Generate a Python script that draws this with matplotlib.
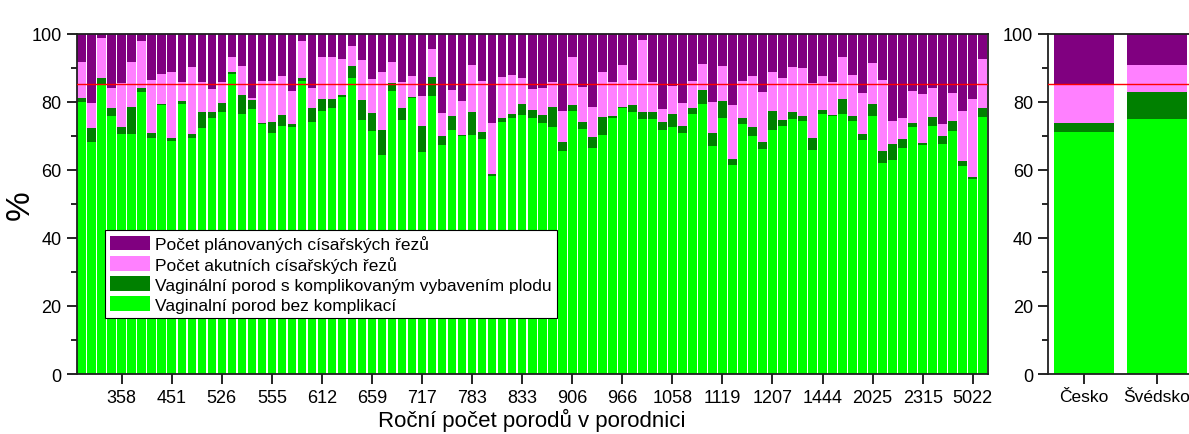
import matplotlib.pyplot as plt
import numpy as np
from matplotlib.ticker import MultipleLocator

plt.rcParams['font.family'] = ['Liberation Sans', 'DejaVu Sans']

# procenta pro jednotlive porodnice (serazeno podle rocniho poctu porodu)
bez_komplikaci = [79.8, 68.2, 84.9, 75.7, 70.5, 70.5, 82.9, 69.3, 79.0, 68.4,
                  79.2, 69.4, 72.2, 75.2, 76.9, 88.2, 76.3, 78.0, 73.5, 70.7,
                  72.9, 72.6, 86.2, 73.9, 77.3, 78.3, 81.3, 86.9, 74.7, 71.3,
                  64.3, 83.2, 74.7, 81.0, 65.3, 81.6, 67.3, 71.7, 69.8, 70.3,
                  69.0, 58.2, 73.9, 75.2, 76.2, 75.1, 73.7, 72.5, 65.6, 77.4,
                  72.0, 66.4, 70.3, 75.2, 78.3, 76.9, 74.9, 74.9, 71.8, 72.7,
                  70.7, 76.4, 79.3, 67.1, 75.1, 61.4, 73.6, 70.0, 66.1, 71.8,
                  72.9, 74.9, 74.4, 65.9, 76.5, 75.7, 76.5, 74.4, 68.8, 75.7,
                  61.9, 62.8, 66.3, 72.6, 67.3, 72.9, 67.5, 71.5, 61.2, 57.3,
                  75.4]
s_vybavenim = [1.3, 4.0, 2.0, 2.6, 2.1, 8.1, 1.0, 1.4, 0.3, 0.8,
               1.1, 1.0, 4.9, 1.7, 2.7, 0.4, 5.7, 2.6, 0.2, 3.2,
               3.2, 0.8, 0.7, 4.4, 3.5, 2.5, 0.7, 3.5, 5.9, 5.3,
               7.4, 2.2, 3.6, 0.3, 7.6, 5.6, 2.7, 4.2, 0.4, 6.6,
               2.0, 0.7, 1.2, 1.2, 3.1, 2.5, 2.4, 6.0, 2.7, 1.7,
               1.9, 3.1, 5.1, 0.7, 0.3, 2.1, 2.0, 2.0, 2.1, 3.7,
               2.2, 1.9, 4.2, 3.6, 5.2, 1.9, 1.5, 2.5, 2.1, 5.6,
               1.8, 2.0, 1.5, 3.4, 1.0, 0.5, 4.3, 1.5, 1.7, 3.6,
               3.5, 4.7, 2.7, 1.1, 0.5, 2.5, 2.3, 2.7, 1.3, 0.6,
               2.9]
akutni = [10.7, 7.4, 11.7, 5.6, 12.9, 13.2, 13.8, 15.8, 8.9, 19.4,
          5.4, 19.7, 8.6, 6.8, 6.1, 4.4, 8.4, 0.5, 12.5, 12.3,
          11.4, 9.8, 11.0, 5.7, 12.2, 12.4, 10.5, 5.9, 11.8, 10.1,
          17.1, 6.2, 7.6, 6.2, 8.9, 8.3, 6.6, 7.5, 10.1, 13.9,
          15.0, 14.8, 12.1, 11.6, 7.6, 6.1, 7.9, 7.4, 9.1, 13.9,
          10.5, 9.0, 13.4, 9.8, 12.2, 7.4, 21.2, 8.8, 3.9, 8.1,
          6.7, 7.9, 7.6, 9.3, 10.3, 15.7, 11.1, 15.0, 14.7, 11.4,
          12.2, 13.2, 14.0, 16.1, 10.1, 9.5, 12.2, 11.9, 12.2, 12.1,
          21.1, 6.9, 6.1, 9.5, 14.4, 8.5, 3.6, 8.5, 14.9, 22.9,
          14.2]
planovane = [8.2, 20.4, 1.4, 16.1, 14.5, 8.2, 2.3, 13.5, 11.8, 11.4,
             14.3, 9.9, 14.3, 16.3, 14.3, 7.0, 9.6, 18.9, 13.8, 13.8,
             12.5, 16.8, 2.1, 16.0, 7.0, 6.8, 7.5, 3.7, 7.6, 13.3,
             11.2, 8.4, 14.1, 12.5, 18.2, 4.5, 23.4, 16.6, 19.7, 9.2,
             14.0, 26.3, 12.8, 12.0, 13.1, 16.3, 16.0, 14.1, 22.6, 7.0,
             15.6, 21.5, 11.2, 14.3, 9.2, 13.6, 1.9, 14.3, 22.2, 15.5,
             20.4, 13.8, 8.9, 20.0, 9.4, 21.0, 13.8, 12.5, 17.1, 11.2,
             13.1, 9.9, 10.1, 14.6, 12.4, 14.3, 7.0, 12.2, 17.3, 8.6,
             13.5, 25.6, 24.9, 16.8, 17.8, 16.1, 26.6, 17.3, 22.6, 19.2,
             7.5]

popisky = ['358', '451', '526', '555', '612', '659', '717', '783', '833',
           '906', '966', '1058', '1119', '1207', '1444', '2025', '2315', '5022']

zeme = ['Česko', 'Švédsko']
zeme_bez = [71.1, 75.0]
zeme_vyb = [2.7, 7.8]
zeme_akut = [11.4, 8.1]
zeme_plan = [14.8, 9.1]

prumer = 85.2

barvy = ['#00ff00', '#008000', '#ff80ff', '#800080']
nazvy = ['Vaginalní porod bez komplikací',
         'Vaginální porod s komplikovaným vybavením plodu',
         'Počet akutních císařských řezů',
         'Počet plánovaných císařských řezů']

fig = plt.figure(figsize=(11.89, 4.35), dpi=100)
ax = fig.add_axes([0.0645, 0.1379, 0.7662, 0.7824])
ax2 = fig.add_axes([0.8817, 0.1379, 0.1228, 0.7824])


def kresli(a, x, serie, w):
    spodek = np.zeros(len(x))
    handles = []
    for hodnoty, barva, nazev in zip(serie, barvy, nazvy):
        h = a.bar(x, hodnoty, w, bottom=spodek, color=barva, label=nazev,
                  edgecolor='none')
        handles.append(h)
        spodek = spodek + np.array(hodnoty)
    return handles


x = np.arange(len(bez_komplikaci))
hs = kresli(ax, x, [bez_komplikaci, s_vybavenim, akutni, planovane], 0.86)
ax.axhline(prumer, color='#ff0000', lw=1.0, zorder=3)
ax.set_xlim(-0.5, len(x) - 0.5)
ax.set_ylim(0, 100)
ax.set_xticks(np.arange(4, len(x), 5))
ax.set_xticklabels(popisky)
ax.set_xlabel('Roční počet porodů v porodnici', fontsize=16, labelpad=1)
ax.set_ylabel('%', fontsize=24)
ax.yaxis.set_label_coords(-0.045, 0.5)

leg = ax.legend(hs[::-1], nazvy[::-1], loc='upper left',
                bbox_to_anchor=(0.031, 0.424), fontsize=12.5, frameon=True,
                fancybox=False, edgecolor='black', framealpha=1,
                handlelength=2.3, handleheight=0.9, handletextpad=0.3,
                labelspacing=0.22, borderpad=0.3, borderaxespad=0)
leg.get_frame().set_linewidth(0.8)

xz = np.arange(len(zeme))
kresli(ax2, xz, [zeme_bez, zeme_vyb, zeme_akut, zeme_plan], 0.82)
ax2.axhline(prumer, color='#ff0000', lw=1.0, zorder=3)
ax2.set_xlim(-0.49, 1.51)
ax2.set_ylim(0, 100)
ax2.set_xticks(xz)
ax2.set_xticklabels(zeme)

for a in (ax, ax2):
    a.yaxis.set_major_locator(MultipleLocator(20))
    a.yaxis.set_minor_locator(MultipleLocator(10))
    a.tick_params(axis='both', which='major', direction='out', length=7,
                  width=1.2, labelsize=13, pad=4)
    a.tick_params(axis='y', which='minor', direction='out', length=4, width=1.2)
    for s in a.spines.values():
        s.set_linewidth(1.3)
        s.set_color('#202020')
ax2.tick_params(axis='x', labelsize=12.5)

plt.savefig('out.png', dpi=100)
plt.close()
